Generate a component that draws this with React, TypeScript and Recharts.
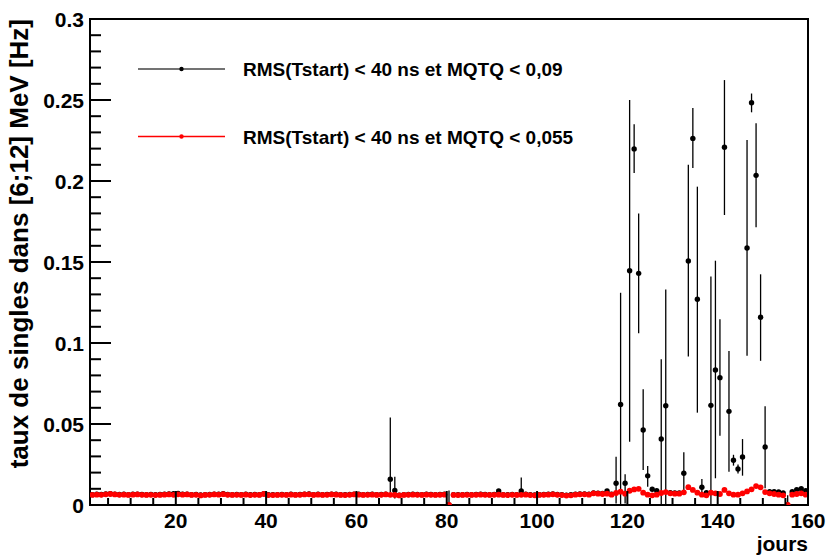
import {
  ScatterChart,
  Scatter,
  XAxis,
  YAxis,
  ErrorBar,
  ReferenceArea,
  Legend,
} from 'recharts'

// day bins (centre of each day, 1 .. 159)
const days = Array.from({ length: 159 }, (_, i) => i + 1.5)

// RMS(Tstart) < 40 ns et MQTQ < 0,055 (red)
const redRate = [
  0.0062, 0.0064, 0.0063, 0.0066, 0.0068, 0.0065, 0.0063, 0.0064, 0.0062, 0.0064,
  0.0065, 0.0063, 0.0062, 0.0063, 0.0061, 0.0062, 0.0064, 0.0065, 0.0063, 0.0066,
  0.0064, 0.0065, 0.0062, 0.0063, 0.0059, 0.0062, 0.0063, 0.0065, 0.0064, 0.0067,
  0.0063, 0.0062, 0.0063, 0.0062, 0.0064, 0.0061, 0.0063, 0.0062, 0.0068, 0.0061,
  0.0061, 0.0062, 0.0063, 0.0062, 0.0064, 0.0062, 0.0063, 0.0065, 0.0066, 0.0062,
  0.0064, 0.0062, 0.0063, 0.0065, 0.0064, 0.0062, 0.0061, 0.0063, 0.0065, 0.0064,
  0.0062, 0.0063, 0.0064, 0.0062, 0.0063, 0.0065, 0.0063, 0.0062, 0.0059, 0.0062,
  0.0063, 0.0064, 0.0063, 0.0062, 0.0064, 0.0063, 0.0062, 0.0063, 0.0064, 0,
  0.0062, 0.0061, 0.0062, 0.0063, 0.0062, 0.0063, 0.0064, 0.0063, 0.0062, 0.0063,
  0.0064, 0.0062, 0.0061, 0.0063, 0.0062, 0.0063, 0.0064, 0.0061, 0.006, 0.0062,
  0.0063, 0.0064, 0.0066, 0.0063, 0.0061, 0.0058, 0.006, 0.0064, 0.0066, 0.0066,
  0.0064, 0.0072, 0.007, 0.0068, 0.007, 0.0064, 0.0074, 0.0082, 0.007, 0.0088,
  0.0096, 0.01, 0.0076, 0.0064, 0.006, 0.0064, 0.0074, 0.008, 0.0072, 0.007,
  0.007, 0.0078, 0.011, 0.0093, 0.0076, 0.0064, 0.006, 0.0076, 0.0072, 0.0068,
  0.0093, 0.0072, 0.0064, 0.0064, 0.0072, 0.0084, 0.0097, 0.0117, 0.0109, 0.008,
  0.0072, 0.0068, 0.0064, 0.006, 0, 0.0064, 0.0068, 0.0072, 0.0064,
]

// RMS(Tstart) < 40 ns et MQTQ < 0,09 (black)
const blackRate = [
  0.0064, 0.0066, 0.0065, 0.0068, 0.007, 0.0067, 0.0065, 0.0066, 0.0064, 0.0066,
  0.0067, 0.0065, 0.0064, 0.0065, 0.0064, 0.0065, 0.0067, 0.0068, 0.007, 0.0072,
  0.0067, 0.0067, 0.0064, 0.0065, 0.0062, 0.0064, 0.0065, 0.0067, 0.0066, 0.0069,
  0.0065, 0.0064, 0.0065, 0.0064, 0.0066, 0.0063, 0.0065, 0.0064, 0.007, 0.0063,
  0.0063, 0.0064, 0.0065, 0.0064, 0.0066, 0.0064, 0.0065, 0.0067, 0.0068, 0.0064,
  0.0066, 0.0064, 0.0065, 0.0067, 0.0066, 0.0064, 0.0063, 0.0065, 0.0067, 0.0066,
  0.0064, 0.0065, 0.0066, 0.0064, 0.0065, 0.0067, 0.0159, 0.009, 0.0061, 0.0064,
  0.0065, 0.0066, 0.0065, 0.0064, 0.0066, 0.0065, 0.0064, 0.0065, 0.0066, 0,
  0.0064, 0.0063, 0.0064, 0.0065, 0.0064, 0.0065, 0.0066, 0.0065, 0.0064, 0.0065,
  0.0086, 0.0064, 0.0063, 0.0065, 0.0064, 0.0086, 0.0066, 0.0063, 0.0062, 0.0064,
  0.0065, 0.0066, 0.0068, 0.0065, 0.0063, 0.0061, 0.0063, 0.0066, 0.0068, 0.0068,
  0.0066, 0.0075, 0.0073, 0.0071, 0.0086, 0.0067, 0.0134, 0.062, 0.0134, 0.1446,
  0.2198, 0.143, 0.0463, 0.018, 0.0097, 0.0088, 0.0407, 0.0613, 0.0076, 0.0074,
  0.0074, 0.0196, 0.1506, 0.2263, 0.127, 0.011, 0.0076, 0.0615, 0.0833, 0.0786,
  0.2208, 0.0578, 0.0276, 0.0222, 0.0296, 0.1586, 0.2483, 0.2035, 0.1159, 0.0358,
  0.0082, 0.0082, 0.008, 0.0074, 0, 0.0082, 0.0095, 0.0101, 0.0088,
]

// visible error bars of the black series (lower / upper ends)
const errDays = [
  67.5, 68.5, 80.5, 96.5, 117.5, 118.5, 119.5, 120.5, 121.5, 122.5, 123.5, 124.5,
  127.5, 128.5, 132.5, 133.5, 134.5, 135.5, 136.5, 138.5, 139.5, 140.5, 141.5,
  142.5, 143.5, 144.5, 145.5, 146.5, 147.5, 148.5, 149.5, 150.5, 155.5,
]
const errLo = [
  0.008, 0.004, 0, 0.005, 0.001, 0, 0.001, 0.039, 0.205, 0.106, 0.0216, 0.0113,
  0, 0, 0.0072, 0.0916, 0.208, 0.057, 0.0075, 0, 0.0165, 0.0428, 0.179,
  0.0206, 0.0243, 0.0195, 0.0181, 0.0922, 0.2424, 0.1714, 0.089, 0.0103, 0,
]
const errHi = [
  0.054, 0.0175, 0.009, 0.017, 0.0298, 0.131, 0.019, 0.25, 0.235, 0.18, 0.0714, 0.024,
  0.09, 0.133, 0.0325, 0.21, 0.245, 0.1965, 0.016, 0.141, 0.1508, 0.1146, 0.2623,
  0.095, 0.031, 0.025, 0.0407, 0.2253, 0.254, 0.2356, 0.1424, 0.061, 0.006,
]

const xLabels = [20, 40, 60, 80, 100, 120, 140, 160]
const yLabels = ['0', '0.05', '0.1', '0.15', '0.2', '0.25', '0.3']
const yMajor = [0, 0.05, 0.1, 0.15, 0.2, 0.25, 0.3]

const blackLabel = 'RMS(Tstart) < 40 ns et MQTQ < 0,09'
const redLabel = 'RMS(Tstart) < 40 ns et MQTQ < 0,055'

const FONT = '"Liberation Sans", Arial, Helvetica, sans-serif'

const blackData = days.map((d, i) => {
  const j = errDays.indexOf(d)
  const v = blackRate[i]
  return { day: d, rate: v, err: j >= 0 ? [v - errLo[j], errHi[j] - v] : [0, 0] }
})
const redData = days.map((d, i) => ({ day: d, rate: redRate[i] }))

const xTicks = Array.from({ length: 32 }, (_, i) => (i + 1) * 5)
const yTicks = Array.from({ length: 31 }, (_, i) => Math.round(i * 10) / 1000)

// plot frame: left 90, right 808, top 19, bottom 505
const PLOT_BOTTOM = 505
const PLOT_LEFT = 90

const XTick = (props: any) => {
  const { x, payload } = props
  const y = PLOT_BOTTOM
  const major = xLabels.includes(payload.value)
  return (
    <g>
      <line x1={x} x2={x} y1={y} y2={y - (major ? 14 : 7)} stroke="#000" strokeWidth={2} />
      {major && (
        <text x={x} y={y + 23} textAnchor="middle" fontFamily={FONT} fontWeight="bold" fontSize={21} fill="#000">
          {payload.value}
        </text>
      )}
    </g>
  )
}

const YTick = (props: any) => {
  const { y, payload } = props
  const x = PLOT_LEFT
  const k = yMajor.findIndex((m) => Math.abs(m - payload.value) < 1e-6)
  return (
    <g>
      <line x1={x} x2={x + (k >= 0 ? 21 : 11)} y1={y} y2={y} stroke="#000" strokeWidth={2} />
      {k >= 0 && (
        <text x={x - 6} y={y + 7.5} textAnchor="end" fontFamily={FONT} fontWeight="bold" fontSize={21} fill="#000">
          {yLabels[k]}
        </text>
      )}
    </g>
  )
}

const renderLegend = () => (
  <svg width={480} height={110}>
    <line x1={8} x2={95} y1={19} y2={19} stroke="#444" strokeWidth={1.5} />
    <circle cx={51.5} cy={19} r={2.2} fill="#000" />
    <text x={113} y={26} fontFamily={FONT} fontWeight="bold" fontSize={19} fill="#000">
      {blackLabel}
    </text>
    <line x1={8} x2={95} y1={86.5} y2={86.5} stroke="#ff0000" strokeWidth={1.5} />
    <circle cx={51.5} cy={86.5} r={2.2} fill="#ff0000" />
    <text x={113} y={93.5} fontFamily={FONT} fontWeight="bold" fontSize={19} fill="#000">
      {redLabel}
    </text>
  </svg>
)

const dot = (color: string, r: number) => (p: any) => <circle cx={p.cx} cy={p.cy} r={r} fill={color} />

export default function App() {
  return (
    <div style={{ position: 'absolute', left: 0, top: 0, width: 827, height: 557, background: '#fff' }}>
      <ScatterChart width={827} height={557} margin={{ top: 19, right: 19, left: 89, bottom: 51 }}>
        <XAxis
          type="number"
          dataKey="day"
          domain={[1, 160]}
          ticks={xTicks}
          interval={0}
          height={1}
          tickSize={0}
          tickMargin={0}
          axisLine={false}
          tick={XTick}
          allowDataOverflow
          label={{
            value: 'jours',
            content: () => (
              <text x={808} y={551} textAnchor="end" fontFamily={FONT} fontWeight="bold" fontSize={21} fill="#000">
                jours
              </text>
            ),
          }}
        />
        <YAxis
          type="number"
          dataKey="rate"
          domain={[0, 0.3]}
          ticks={yTicks}
          interval={0}
          width={1}
          tickSize={0}
          tickMargin={0}
          axisLine={false}
          tick={YTick}
          allowDataOverflow
          label={{
            value: 'taux de singles dans [6;12] MeV [Hz]',
            content: () => (
              <text
                transform="translate(28, 19) rotate(-90)"
                textAnchor="end"
                fontFamily={FONT}
                fontWeight="bold"
                fontSize={26}
                fill="#000"
              >
                taux de singles dans [6;12] MeV [Hz]
              </text>
            ),
          }}
        />
        <ReferenceArea x1={1} x2={160} y1={0} y2={0.3} fill="none" stroke="#000" strokeWidth={2} fillOpacity={0} />
        <Legend
          layout="vertical"
          align="center"
          verticalAlign="middle"
          content={renderLegend}
          wrapperStyle={{ left: 130, top: 50, width: 480, height: 110 }}
        />
        <Scatter name={blackLabel} data={blackData} shape={dot('#000', 2.7)} isAnimationActive={false}>
          <ErrorBar dataKey="err" direction="y" width={0} stroke="#000" strokeWidth={1.3} />
        </Scatter>
        <Scatter name={redLabel} data={redData} shape={dot('#ff0000', 2.9)} isAnimationActive={false} />
      </ScatterChart>
    </div>
  )
}
